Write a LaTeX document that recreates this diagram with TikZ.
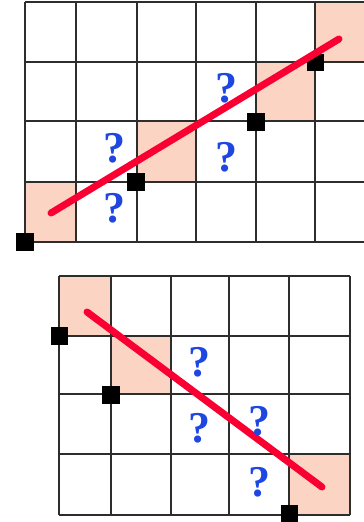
\documentclass[tikz,border=0pt]{standalone}
\usepackage{fontspec}
\setmainfont{Liberation Serif}
\definecolor{gridc}{RGB}{45,45,45}
\definecolor{shadec}{RGB}{252,212,196}
\definecolor{linec}{RGB}{250,0,50}
\definecolor{qc}{RGB}{30,70,225}
\begin{document}
\begin{tikzpicture}[x=1pt,y=-1pt,
  gridline/.style={draw=gridc,line width=1.2pt},
  cellshade/.style={fill=shadec},
  pix/.style={fill=black,minimum size=17.5pt,inner sep=0pt,outer sep=0pt,draw=none},
  redline/.style={draw=linec,line width=7pt,line cap=round},
  qmark/.style={text=qc,font=\fontsize{44}{44}\selectfont\bfseries,inner sep=0pt}]
\useasboundingbox (0,0) rectangle (364,522);
% ---------- top grid ----------
\fill[cellshade] (25,182) rectangle (76,242);
\fill[cellshade] (137,121) rectangle (196,182);
\fill[cellshade] (256,62) rectangle (315,121);
\fill[cellshade] (315,2) rectangle (364,62);
\foreach \x in {25,76,137,196,256,315} \draw[gridline] (\x,2) -- (\x,242);
\foreach \y in {2,62,121,182,242} \draw[gridline] (25,\y) -- (364,\y);
\node[pix] (t1) at (25,242) {};
\node[pix] (t2) at (136,182) {};
\node[pix] (t3) at (256,122) {};
\node[pix] (t4) at (315.5,62.5) {};
\coordinate (ta) at (51,213);
\coordinate (tb) at (339,39);
\draw[redline] (ta) -- (tb);
\node[qmark] (tq1) at (226,88) {?};
\node[qmark] (tq2) at (114,148) {?};
\node[qmark] (tq3) at (226,157) {?};
\node[qmark] (tq4) at (114,208) {?};
% ---------- bottom grid ----------
\fill[cellshade] (59,276) rectangle (111,336);
\fill[cellshade] (111,336) rectangle (171,394);
\fill[cellshade] (289,454) rectangle (350,515);
\foreach \x in {59,111,171,229,289,350} \draw[gridline] (\x,276) -- (\x,515);
\foreach \y in {276,336,394,454,515} \draw[gridline] (59,\y) -- (350,\y);
\node[pix] (b1) at (59.5,336) {};
\node[pix] (b2) at (111,395) {};
\node[pix] (b3) at (289.5,514) {};
\coordinate (ba) at (87,312);
\coordinate (bb) at (322,487);
\draw[redline] (ba) -- (bb);
\node[qmark] (bq1) at (199,362) {?};
\node[qmark] (bq2) at (199,428) {?};
\node[qmark] (bq3) at (259,421) {?};
\node[qmark] (bq4) at (259,482) {?};
\end{tikzpicture}
\end{document}
